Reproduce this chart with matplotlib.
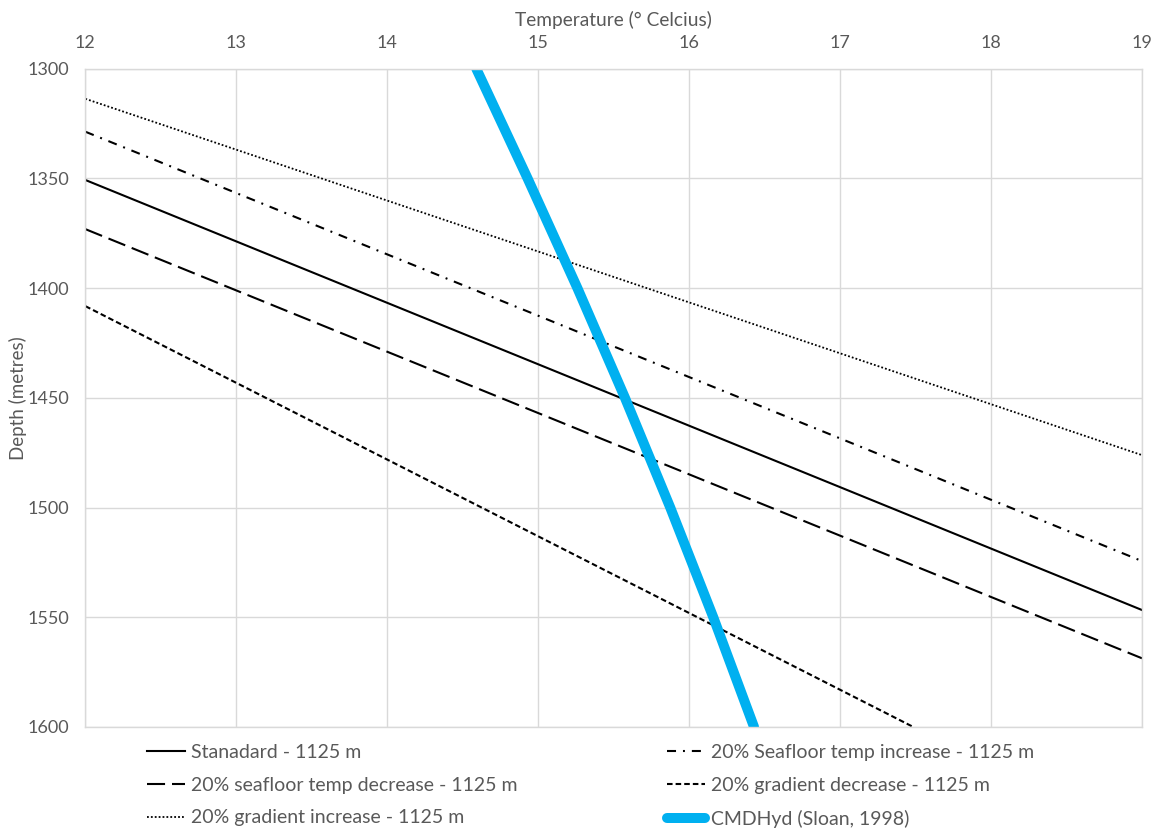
import matplotlib
matplotlib.use("Agg")
import matplotlib.pyplot as plt

plt.rcParams["font.family"] = ["Lato", "DejaVu Sans"]
plt.rcParams["lines.scale_dashes"] = False

# Temperature range (deg C) over which the geotherms are drawn
geo_temp = [12, 19]
standard_depth = [1350.7, 1546.7]
sf_increase_depth = [1328.7, 1524.4]
sf_decrease_depth = [1373.1, 1568.7]
grad_increase_depth = [1313.7, 1476.1]

# Gradient-decrease geotherm leaves the depth window at 1600 m
grad_decrease_temp = [12, 17.485]
grad_decrease_depth = [1408.2, 1600]

# Hydrate stability boundary (CSMHyd)
hyd_temp = [14.59, 14.93, 15.26, 15.575, 15.875, 16.16, 16.43]
hyd_depth = [1300, 1350, 1400, 1450, 1500, 1550, 1600]

x_ticks = [12, 13, 14, 15, 16, 17, 18, 19]
y_ticks = [1300, 1350, 1400, 1450, 1500, 1550, 1600]

text_color = "#595959"
grid_color = "#d9d9d9"

fig = plt.figure(figsize=(11.61, 8.33), dpi=100)
ax = fig.add_axes([0.0735, 0.1273, 0.9101, 0.7902])

lw = 1.5
h_std, = ax.plot(geo_temp, standard_depth, color="black", lw=lw,
                 label="Stanadard - 1125 m")
h_sfi, = ax.plot(geo_temp, sf_increase_depth, color="black", lw=lw,
                 linestyle=(0, (6.5, 5, 1.4, 5)),
                 label="20% Seafloor temp increase - 1125 m")
h_sfd, = ax.plot(geo_temp, sf_decrease_depth, color="black", lw=lw,
                 linestyle=(0, (13, 5)),
                 label="20% seafloor temp decrease - 1125 m")
h_gd, = ax.plot(grad_decrease_temp, grad_decrease_depth, color="black", lw=lw,
                linestyle=(0, (4, 2.2)),
                label="20% gradient decrease - 1125 m")
h_gi, = ax.plot(geo_temp, grad_increase_depth, color="black", lw=1.3,
                linestyle=(0, (1.3, 1.5)),
                label="20% gradient increase - 1125 m")
h_hyd, = ax.plot(hyd_temp, hyd_depth, color="#00b0f0", lw=7.2,
                 solid_capstyle="round", solid_joinstyle="round",
                 label="CMDHyd (Sloan, 1998)")
for h in (h_std, h_sfi, h_sfd, h_gd, h_gi):
    h.set_dash_capstyle("butt")

ax.set_xlim(12, 19)
ax.set_ylim(1600, 1300)
ax.set_xticks(x_ticks)
ax.set_yticks(y_ticks)
ax.xaxis.tick_top()
ax.xaxis.set_label_position("top")
ax.tick_params(axis="both", length=0, labelsize=13, colors=text_color)
ax.tick_params(axis="x", pad=13)
ax.tick_params(axis="y", pad=11.5)
ax.grid(True, color=grid_color, lw=1.0)
ax.set_axisbelow(True)
for s in ax.spines.values():
    s.set_color(grid_color)
    s.set_linewidth(1.0)

ax.set_xlabel("Temperature (° Celcius)", fontsize=13.8, color=text_color, labelpad=6)
fig.text(18 / 1161, 1 - 398 / 833, "Depth (metres)", rotation=90,
         ha="center", va="center", fontsize=13.5, color=text_color)

legend_kw = dict(frameon=False, fontsize=14, handlelength=1.96, handletextpad=0.3,
                 labelspacing=0.81, borderpad=0, borderaxespad=0,
                 labelcolor=text_color, loc="upper left")
leg1 = fig.legend(handles=[h_std, h_sfd, h_gi],
                  bbox_to_anchor=(147 / 1161, 1 - 744 / 833), **legend_kw)
leg2 = fig.legend(handles=[h_sfi, h_gd, h_hyd],
                  bbox_to_anchor=(667 / 1161, 1 - 744 / 833), **legend_kw)

fig.savefig("out.png", dpi=100)
